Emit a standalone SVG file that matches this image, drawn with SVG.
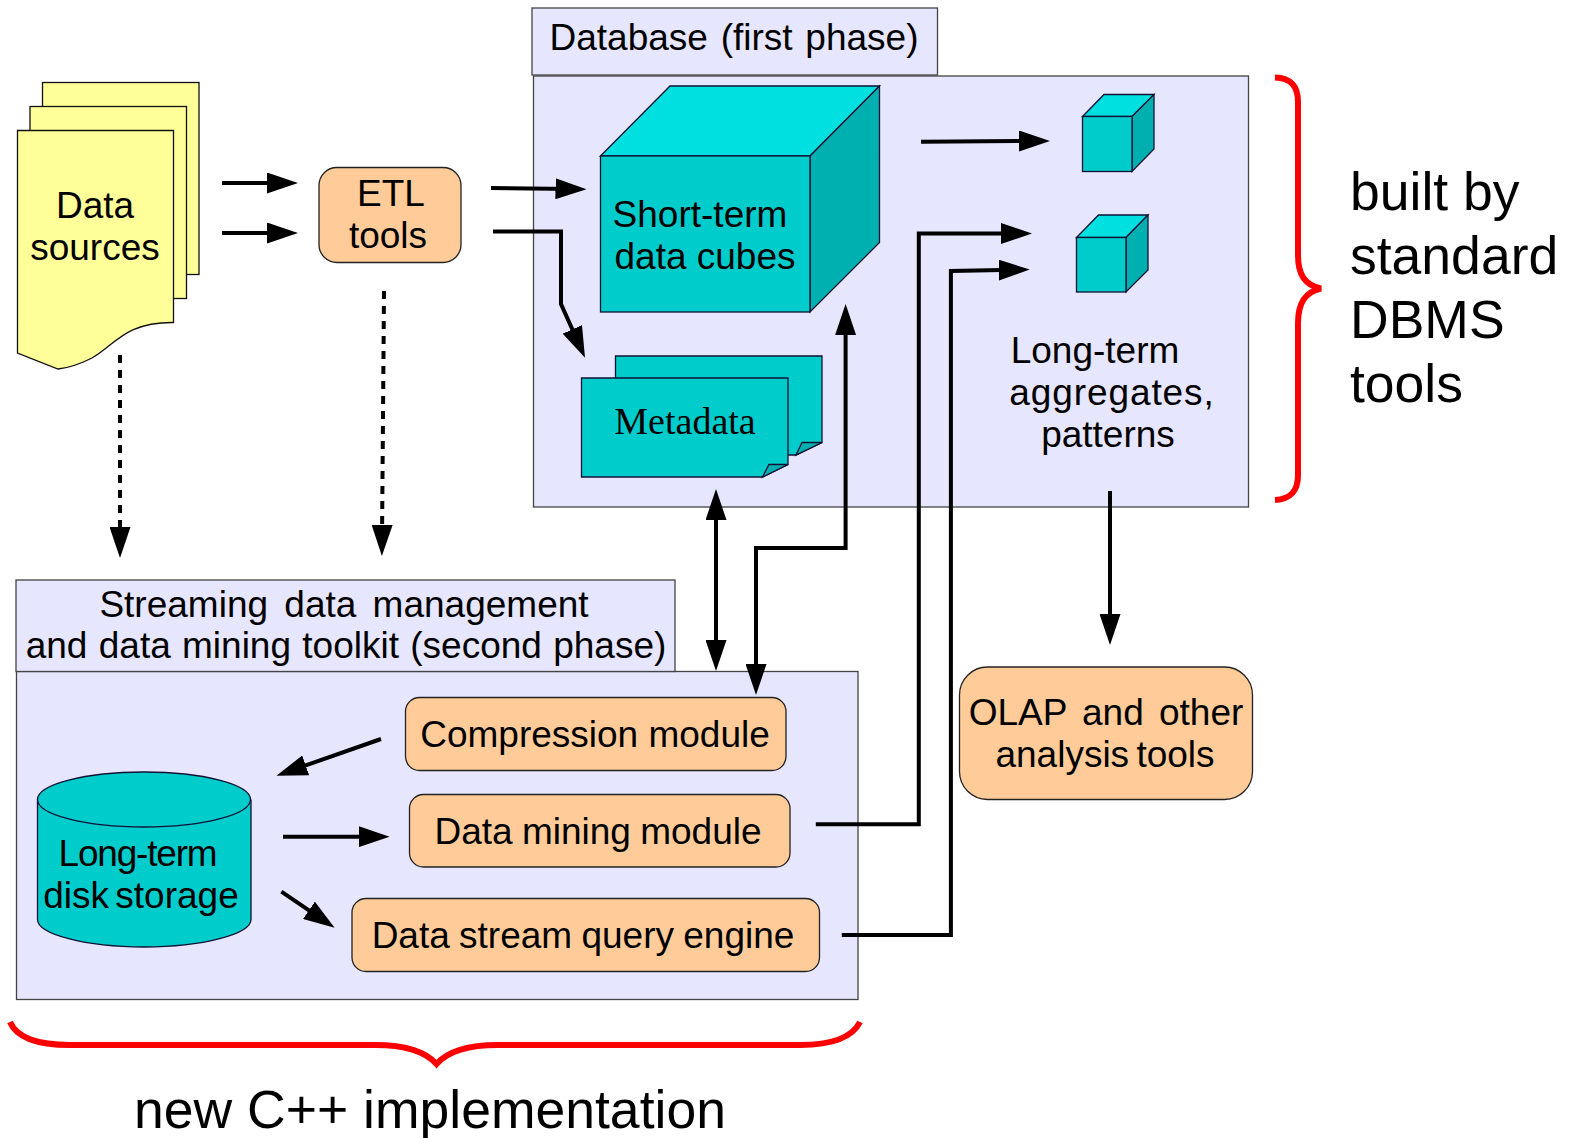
<svg xmlns="http://www.w3.org/2000/svg" width="1577" height="1138" viewBox="0 0 1577 1138">
<style>
text{font-family:"Liberation Sans",Arial,sans-serif;font-size:37px;fill:#000;text-anchor:middle}
.l{text-anchor:start}
.big{font-size:53.5px}
.panel{fill:#e6e6ff;stroke:#444;stroke-width:1.3}
.doc{fill:#ffff99;stroke:#111;stroke-width:1.3}
.teal{fill:#00cccc;stroke:#113;stroke-width:1.3}
.top{fill:#00e0e0;stroke:#113;stroke-width:1.3}
.side{fill:#00b0b0;stroke:#113;stroke-width:1.3}
.org{fill:#ffcc99;stroke:#222;stroke-width:1.3}
.c{fill:none;stroke:#000;stroke-width:4;marker-end:url(#a)}
.s{marker-start:url(#a)}
.n{marker-end:none}
.d{stroke-dasharray:8 7}
.b{fill:none;stroke:#f00;stroke-width:6}
</style>
<defs>
<marker id="a" markerUnits="userSpaceOnUse" markerWidth="31" markerHeight="21" refX="16" refY="10.5" orient="auto-start-reverse" viewBox="0 0 31 21"><path d="M0,0L31,10.5L0,21Z" fill="#000"/></marker>
</defs>
<g id="database-panel"><rect class="panel" x="533.5" y="76" width="715" height="431"/><text><tspan x="1095" y="363">Long-term</tspan><tspan x="1112" y="405" letter-spacing="0.9">aggregates,</tspan><tspan x="1108" y="447">patterns</tspan></text></g>
<g id="database-title"><rect class="panel" x="532" y="8" width="405.500" height="67"/><text x="734" y="50" word-spacing="2.5">Database (first phase)</text></g>
<g id="stream-panel"><rect class="panel" x="16.500" y="671.500" width="841.500" height="328"/></g>
<g id="stream-title"><rect class="panel" x="16" y="580" width="659" height="91.500"/><text><tspan x="344" y="617" word-spacing="6">Streaming data management</tspan><tspan x="346" y="658" word-spacing="1">and data mining toolkit (second phase)</tspan></text></g>
<g id="data-sources">
<rect class="doc" x="42.500" y="82.500" width="156.500" height="192"/>
<rect class="doc" x="30" y="106.500" width="156.500" height="192"/>
<path class="doc" d="M17.500,130.500H173.500V322.500C125,322 115,345 92,358C80,364 68,368 58,369L17.500,353Z"/>
<text><tspan x="95" y="218">Data</tspan><tspan x="95" y="260">sources</tspan></text>
</g>
<g id="etl-tools"><rect class="org" x="319" y="167.500" width="142" height="95" rx="18"/><text><tspan x="391" y="206">ETL</tspan><tspan x="388" y="248">tools</tspan></text></g>
<g id="short-term-cubes">
<path class="top" d="M600.500,156L670,86H879.500L810,156Z"/><path class="side" d="M810,156L879.500,86V242.500L810,312Z"/><rect class="teal" x="600.500" y="156" width="209.500" height="156"/>
<text><tspan x="700" y="227">Short-term</tspan><tspan x="705" y="269">data cubes</tspan></text>
</g>
<g id="aggregate-cube-1"><path class="top" d="M1082.500,116.500L1104,94.500H1154L1132,116.500Z"/><path class="side" d="M1132,116.500L1154,94.500V149L1132,171.500Z"/><rect class="teal" x="1082.500" y="116.500" width="49.500" height="55"/></g>
<g id="aggregate-cube-2"><path class="top" d="M1076.500,237.500L1098.500,215H1148L1126,237.500Z"/><path class="side" d="M1126,237.500L1148,215V270L1126,292Z"/><rect class="teal" x="1076.500" y="237.500" width="49.500" height="54.500"/></g>
<g id="metadata">
<path class="teal" d="M615.500,356H822V442.500L796,455H615.500Z"/><path class="side" d="M796,455L802,442.500L822,442.500Z"/>
<path class="teal" d="M581.500,378H788V464.500L762.500,477H581.500Z"/><path class="side" d="M762.500,477L769,464.500L788,464.500Z"/>
<text x="685" y="434" style="font-family:'Liberation Serif',serif;font-size:38px">Metadata</text>
</g>
<g id="olap-tools"><rect class="org" x="959.500" y="667" width="293" height="132.500" rx="28"/><text><tspan x="1106" y="725" word-spacing="5">OLAP and other</tspan><tspan x="1105" y="767" word-spacing="-3">analysis tools</tspan></text></g>
<g id="compression-module"><rect class="org" x="405.500" y="697.500" width="380.500" height="73" rx="14"/><text x="595" y="747">Compression module</text></g>
<g id="data-mining-module"><rect class="org" x="409.500" y="794.500" width="380.500" height="72.500" rx="14"/><text x="598" y="844" word-spacing="-1">Data mining module</text></g>
<g id="query-engine"><rect class="org" x="352" y="898.500" width="467.500" height="73" rx="14"/><text x="583" y="948" word-spacing="-1">Data stream query engine</text></g>
<g id="disk-storage"><path class="teal" d="M37.500,799.500V919.500C37.500,934 85,947 144,947C203,947 251,934 251,919.500V799.500"/><ellipse class="teal" cx="144" cy="799.500" rx="106.500" ry="27.500"/><text><tspan x="137.500" y="866" letter-spacing="-1.200">Long-term</tspan><tspan x="141" y="908" word-spacing="-4">disk storage</tspan></text></g>
<g id="connectors">
<path class="c" d="M222,183H283"/>
<path class="c" d="M222,233H283"/>
<path class="c" d="M491,188L571.500,189"/>
<path class="c" d="M493,231.500H561V304L578.900,344"/>
<path class="c" d="M921,141.700L1035,141"/>
<path class="c" d="M815.800,824.300H918.800V233.500H1017"/>
<path class="c" d="M841.800,935H950.900V271L1014.700,269.800"/>
<path class="c s" d="M756,680V548H845.600V319"/>
<path class="c s" d="M716,504V656"/>
<path class="c" d="M1110,491V630"/>
<path class="c" d="M381,739L290.600,770.700"/>
<path class="c" d="M283,836.700H374.600"/>
<path class="c" d="M281.400,891.700L322.200,919.300"/>
<path class="c d" d="M120,355V543"/>
<path class="c d" d="M384,291L382,541"/>
</g>
<g id="dbms-brace"><path class="b" d="M1275,77.500C1290,78 1298,85 1298,102V255C1298,275 1305,285 1321,288.500C1305,292 1298,303 1298,323V475C1298,492 1290,499 1275,500"/><text class="big l"><tspan x="1350" y="210">built by</tspan><tspan x="1350" y="274">standard</tspan><tspan x="1350" y="338">DBMS</tspan><tspan x="1350" y="402">tools</tspan></text></g>
<g id="cpp-brace"><path class="b" d="M10,1022C16,1036 35,1045 70,1045H375C405,1045 425,1051 436.500,1064C448,1051 468,1045 498,1045H800C835,1045 853,1036 860,1022"/><text class="big" x="430" y="1128">new C++ implementation</text></g>
</svg>
